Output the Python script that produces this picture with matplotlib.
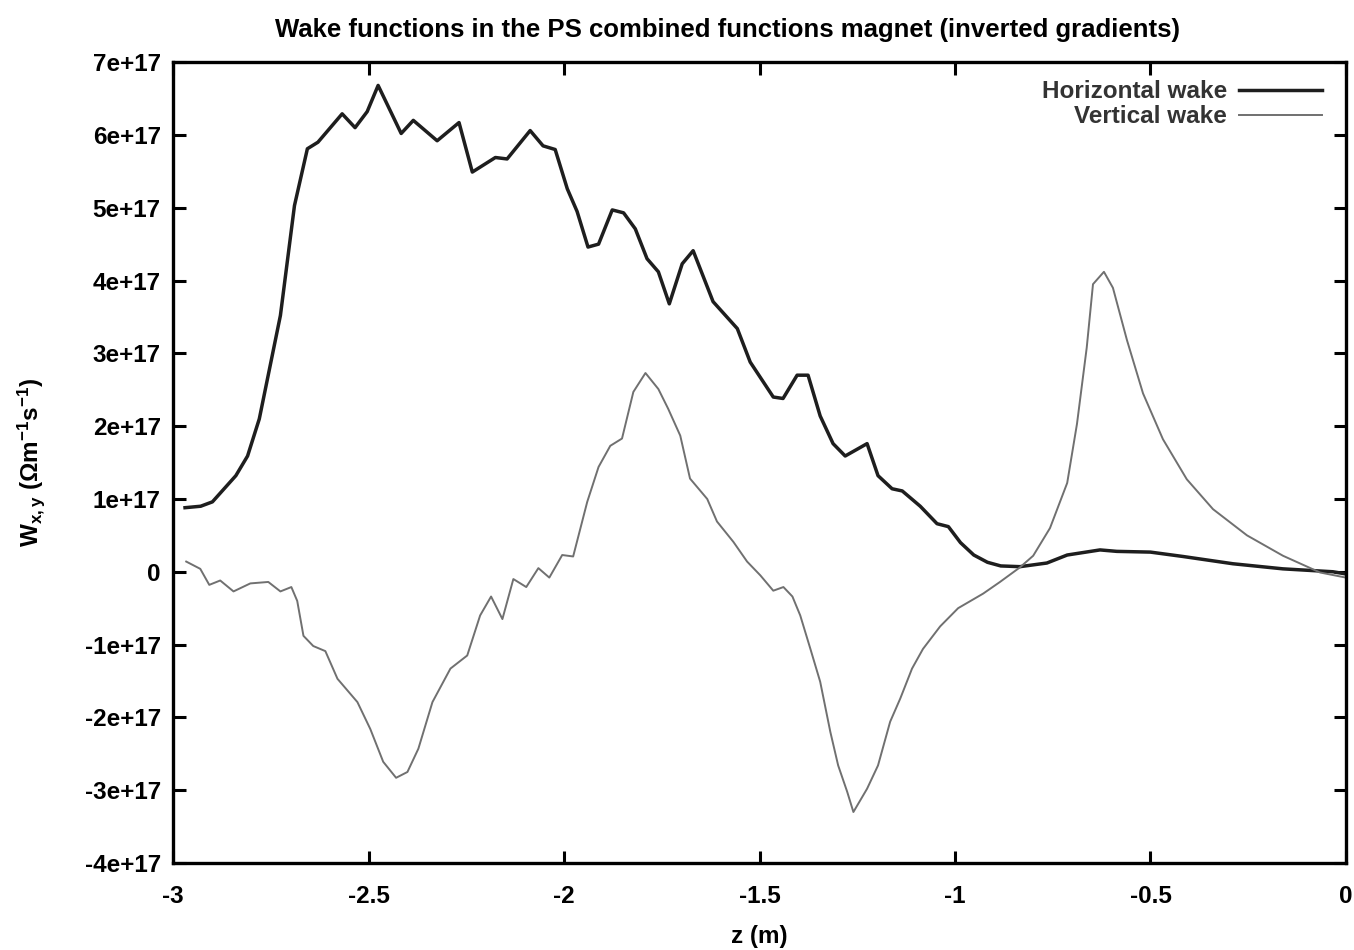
import matplotlib
matplotlib.use("Agg")
import matplotlib.pyplot as plt
from matplotlib.ticker import FixedLocator, FixedFormatter

plt.rcParams["font.family"] = ["Liberation Sans", "DejaVu Sans"]
plt.rcParams["font.weight"] = "bold"
plt.rcParams["mathtext.fontset"] = "custom"
plt.rcParams["mathtext.rm"] = "Liberation Sans:bold"
plt.rcParams["mathtext.it"] = "Liberation Sans:bold"
plt.rcParams["mathtext.bf"] = "Liberation Sans:bold"

# data, W in units of 1e17 Ohm m^-1 s^-1
z_h = [-2.97, -2.93, -2.90, -2.88, -2.84, -2.81, -2.78, -2.726, -2.69, -2.657,
       -2.63, -2.568, -2.535, -2.504, -2.476, -2.417, -2.386, -2.325, -2.269, -2.235,
       -2.176, -2.146, -2.087, -2.054, -2.023, -1.992, -1.967, -1.939, -1.912, -1.877,
       -1.848, -1.818, -1.788, -1.759, -1.731, -1.698, -1.670, -1.619, -1.557, -1.524,
       -1.465, -1.44, -1.404, -1.376, -1.345, -1.312, -1.281, -1.225, -1.197, -1.161,
       -1.135, -1.089, -1.046, -1.017, -0.986, -0.952, -0.917, -0.883, -0.834, -0.765,
       -0.713, -0.629, -0.586, -0.5, -0.417, -0.289, -0.161, -0.033, 0.0]
w_h = [0.88, 0.90, 0.96, 1.08, 1.32, 1.59, 2.10, 3.52, 5.03, 5.81,
       5.90, 6.29, 6.10, 6.32, 6.68, 6.02, 6.20, 5.92, 6.17, 5.49,
       5.69, 5.67, 6.06, 5.85, 5.80, 5.26, 4.95, 4.46, 4.50, 4.97,
       4.93, 4.71, 4.30, 4.12, 3.68, 4.23, 4.41, 3.71, 3.34, 2.88,
       2.40, 2.38, 2.70, 2.70, 2.14, 1.76, 1.59, 1.76, 1.32, 1.14,
       1.11, 0.90, 0.66, 0.62, 0.40, 0.23, 0.13, 0.08, 0.07, 0.12,
       0.23, 0.30, 0.28, 0.27, 0.21, 0.11, 0.04, 0.0, -0.03]

z_v = [-2.967, -2.931, -2.908, -2.88, -2.846, -2.803, -2.757, -2.726, -2.698, -2.683,
       -2.667, -2.642, -2.611, -2.58, -2.529, -2.496, -2.463, -2.43, -2.401, -2.373,
       -2.337, -2.291, -2.248, -2.215, -2.187, -2.158, -2.13, -2.097, -2.066, -2.038,
       -2.005, -1.977, -1.941, -1.912, -1.882, -1.852, -1.823, -1.792, -1.759, -1.734,
       -1.703, -1.678, -1.634, -1.609, -1.567, -1.532, -1.498, -1.465, -1.439, -1.416,
       -1.396, -1.37, -1.345, -1.319, -1.299, -1.276, -1.26, -1.225, -1.197, -1.166,
       -1.14, -1.11, -1.082, -1.038, -0.992, -0.928, -0.885, -0.834, -0.80, -0.757,
       -0.713, -0.688, -0.663, -0.647, -0.619, -0.596, -0.56, -0.519, -0.468, -0.407,
       -0.34, -0.253, -0.161, -0.066, 0.0]
w_v = [0.14, 0.04, -0.18, -0.12, -0.27, -0.16, -0.14, -0.27, -0.21, -0.40,
       -0.88, -1.02, -1.09, -1.47, -1.79, -2.16, -2.61, -2.83, -2.75, -2.43,
       -1.79, -1.33, -1.15, -0.60, -0.34, -0.65, -0.10, -0.21, 0.05, -0.08,
       0.23, 0.21, 0.96, 1.44, 1.73, 1.83, 2.47, 2.73, 2.51, 2.24,
       1.87, 1.28, 1.00, 0.69, 0.41, 0.14, -0.05, -0.26, -0.21, -0.34,
       -0.60, -1.06, -1.51, -2.20, -2.66, -3.02, -3.30, -2.98, -2.66, -2.06,
       -1.74, -1.33, -1.06, -0.75, -0.50, -0.30, -0.14, 0.06, 0.22, 0.60,
       1.22, 2.03, 3.08, 3.95, 4.12, 3.90, 3.18, 2.45, 1.82, 1.27,
       0.86, 0.50, 0.22, -0.01, -0.08]

scale = 1e17
y_ticks = [7, 6, 5, 4, 3, 2, 1, 0, -1, -2, -3, -4]
y_labels = ["7e+17", "6e+17", "5e+17", "4e+17", "3e+17", "2e+17", "1e+17", "0",
            "-1e+17", "-2e+17", "-3e+17", "-4e+17"]
x_ticks = [-3, -2.5, -2, -1.5, -1, -0.5, 0]
x_labels = ["-3", "-2.5", "-2", "-1.5", "-1", "-0.5", "0"]

fs = 17.5

fig = plt.figure(figsize=(13.54, 9.5), dpi=100)
ax = fig.add_axes([0.128, 0.0916, 0.866, 0.843])

ax.plot(z_h, [w * scale for w in w_h], color="#1e1e1e", lw=2.5, label="Horizontal wake")
ax.plot(z_v, [w * scale for w in w_v], color="#707070", lw=1.4, label="Vertical wake")

ax.set_xlim(-3, 0)
ax.set_ylim(-4e17, 7e17)
ax.xaxis.set_major_locator(FixedLocator(x_ticks))
ax.xaxis.set_major_formatter(FixedFormatter(x_labels))
ax.yaxis.set_major_locator(FixedLocator([t * scale for t in y_ticks]))
ax.yaxis.set_major_formatter(FixedFormatter(y_labels))
ax.tick_params(direction="in", length=9, width=2.2, top=True, right=True,
               labelsize=fs)
ax.tick_params(axis="x", pad=16)
ax.tick_params(axis="y", pad=9)
for lab in ax.get_xticklabels() + ax.get_yticklabels():
    lab.set_fontweight("bold")
for sp in ax.spines.values():
    sp.set_linewidth(2.4)

fig.text(0.537, 0.968,
         "Wake functions in the PS combined functions magnet (inverted gradients)",
         fontsize=18.5, fontweight="bold", ha="center", va="center")
ax.set_xlabel("z (m)", fontsize=fs, fontweight="bold")
ax.xaxis.set_label_coords(0.5, -0.078)
ax.set_ylabel("W$_{x,y}$ (Ωm$^{-1}$s$^{-1}$)", fontsize=fs, fontweight="bold")
ax.yaxis.set_label_coords(-0.108, 0.5)

leg = ax.legend(loc="upper right", bbox_to_anchor=(0.9795, 0.9775), frameon=False,
                markerfirst=False, fontsize=fs, handlelength=3.4, handletextpad=0.5,
                borderaxespad=0, borderpad=0, labelspacing=0.08)
for t in leg.get_texts():
    t.set_ha("right")
    t.set_color("#333333")

fig.savefig("out.png", dpi=100)
